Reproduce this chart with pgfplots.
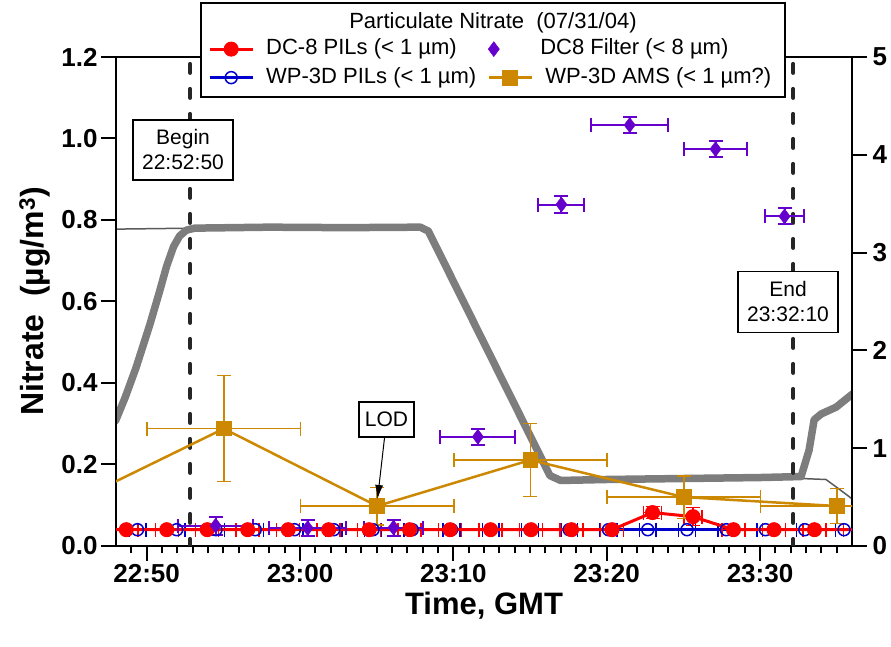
\documentclass[border=0pt]{standalone}
\usepackage{fontspec}
\setmainfont{Liberation Sans}
\usepackage{pgfplots}
\pgfplotsset{compat=1.18}
\usepackage{pgfplotstable}
\usetikzlibrary{arrows.meta}

\definecolor{dcred}{RGB}{255,0,0}
\definecolor{wpblue}{RGB}{0,0,204}
\definecolor{filt}{RGB}{102,0,204}
\definecolor{ams}{RGB}{204,136,0}
\definecolor{altgray}{RGB}{125,125,125}
\definecolor{altdark}{RGB}{90,90,90}

% time in minutes after 22:50 GMT
\pgfplotstableread{
x y
-2.03 1.28
-1.40 1.52
-0.70 1.82
0.20 2.26
0.80 2.58
1.30 2.86
1.75 3.06
2.15 3.17
2.60 3.23
3.14 3.25
8.0 3.26
13.0 3.255
17.84 3.26
18.37 3.22
26.30 0.72
27.00 0.67
30.0 0.68
35.0 0.69
40.0 0.70
42.68 0.71
43.2 0.98
43.53 1.29
43.99 1.35
44.97 1.42
45.6 1.50
46.08 1.56
}\altdc

\pgfplotstableread{
x y
-2.03 3.24
3.14 3.25
8.0 3.26
13.0 3.255
17.84 3.26
18.37 3.22
26.30 0.72
27.00 0.67
30.0 0.68
35.0 0.69
40.0 0.70
42.7 0.69
44.3 0.68
45.0 0.60
45.6 0.53
46.1 0.47
}\altwp

\pgfplotstableread{
x y ex ey
-3.97 0.04 0.75 0
-1.33 0.04 0.75 0
1.31 0.04 0.75 0
3.95 0.04 0.75 0
6.59 0.04 0.75 0
9.23 0.04 0.75 0
11.87 0.04 0.75 0
14.51 0.04 0.75 0
17.15 0.04 0.75 0
19.79 0.04 0.75 0
22.43 0.04 0.75 0
25.07 0.04 0.75 0
27.71 0.04 0.75 0
30.35 0.04 0.75 0
32.99 0.082 0.6 0.015
35.63 0.072 0.6 0.022
38.27 0.04 0.75 0
40.91 0.04 0.75 0
43.55 0.04 0.75 0
46.19 0.04 0.75 0
}\dcpils

\pgfplotstableread{
x y ex
-3.16 0.04 0.55
-0.60 0.04 0.55
1.96 0.04 0.55
4.52 0.04 0.55
7.08 0.04 0.55
9.64 0.04 0.55
12.20 0.04 0.55
14.76 0.04 0.55
17.32 0.04 0.55
19.88 0.04 0.55
22.44 0.04 0.55
25.00 0.04 0.55
27.56 0.04 0.55
30.12 0.04 0.55
32.68 0.04 0.55
35.24 0.04 0.55
37.80 0.04 0.55
40.36 0.04 0.55
42.92 0.04 0.55
45.48 0.04 0.55
}\wppils

\pgfplotstableread{
x y ex ey
4.5 0.050 2.45 0.022
10.5 0.044 2.5 0.020
16.1 0.045 1.9 0.020
21.6 0.268 2.45 0.020
27.05 0.838 1.5 0.022
31.5 1.033 2.5 0.020
37.1 0.974 2.05 0.020
41.6 0.809 1.3 0.020
}\filter

\pgfplotstableread{
x y ex ey
-9.0 0.030 5 0
5.03 0.288 5 0.130
15.03 0.098 5 0.046
25.03 0.211 5 0.090
35.03 0.120 5 0.052
45.03 0.098 5 0.043
}\amsdata

\pgfplotsset{
  geom/.style={at={(116pt,101pt)}, anchor=south west, width=736pt, height=489pt,
    scale only axis, xmin=-2, xmax=46},
  linelegend/.style={legend image code/.code={\draw[mark repeat=2,mark phase=2,##1] plot coordinates {(0pt,0pt) (21.5pt,0pt) (43pt,0pt)};}},
  marklegend/.style={legend image code/.code={\draw[##1] plot coordinates {(5pt,0pt)};}},
}

\newcommand{\tickfont}{\fontsize{26}{30}\selectfont\bfseries}

\begin{document}
\begin{tikzpicture}[x=1pt,y=1pt]
\useasboundingbox (0,0) rectangle (891,647);

% right axis (altitude traces)
\begin{axis}[geom, ymin=0, ymax=5,
  axis x line=none, axis y line*=right,
  ytick={0,1,2,3,4,5},
  tick align=outside, major tick length=15pt,
  axis line style={line width=2pt, -},
  tick style={line width=2pt, black},
  yticklabel style={font=\tickfont, xshift=2pt},
  /pgf/number format/assume math mode=true]
\addplot[altdark, line width=1.5pt, line join=round] table {\altwp};
\addplot[altgray, line width=7.5pt, line join=round, line cap=round] table {\altdc};
\end{axis}

% left axis (nitrate)
\begin{axis}[geom, ymin=0, ymax=1.2,
  xtick={0,10,20,30,40},
  xticklabels={22:50,23:00,23:10,23:20,23:30},
  minor xtick={-1,0,...,45},
  ytick={0,0.2,0.4,0.6,0.8,1.0,1.2},
  yticklabels={0.0,0.2,0.4,0.6,0.8,1.0,1.2},
  tick pos=left, tick align=outside,
  major tick length=15pt, minor tick length=7.5pt,
  axis line style={line width=2pt},
  tick style={line width=2pt, black},
  ticklabel style={font=\tickfont},
  xlabel={Time, GMT}, ylabel={Nitrate\ \ (µg/m\textsuperscript{3})},
  label style={font=\fontsize{32}{36}\selectfont\bfseries},
  xlabel style={at={(axis description cs:0.5,-0.121)}, anchor=center, font=\fontsize{31}{36}\selectfont\bfseries},
  ylabel style={at={(axis description cs:-0.110,0.5)}, anchor=center},
  error bars/error bar style={line width=1.5pt},
]
% Begin / End markers
\addplot[black!85, line width=4pt, dash pattern=on 9pt off 16pt, line cap=round] coordinates {(2.8333,1.183) (2.8333,0)};
\addplot[black!85, line width=4pt, dash pattern=on 9pt off 16pt, line cap=round] coordinates {(42.1667,1.183) (42.1667,0)};

% WP-3D PILs
\addplot[wpblue, line width=3pt, mark=o, mark size=6pt,
  mark options={line width=1.5pt, fill=white},
  error bars/.cd, x dir=both, x explicit,
  error mark options={wpblue, line width=1.5pt, mark size=7pt, rotate=90}]
  table[x=x, y=y, x error=ex] {\wppils};

% DC-8 PILs
\addplot[dcred, line width=3pt, mark=*, mark size=7pt,
  mark options={line width=1pt},
  error bars/.cd, x dir=both, x explicit, y dir=both, y explicit,
  error mark options={dcred, line width=1.5pt, mark size=7pt, rotate=90}]
  table[x=x, y=y, x error=ex, y error=ey] {\dcpils};

% DC8 Filter
\addplot[filt, only marks, mark=diamond*, mark size=7.5pt,
  error bars/.cd, x dir=both, x explicit, y dir=both, y explicit,
  error bar style={line width=2pt},
  error mark options={filt, line width=2pt, mark size=7pt, rotate=90}]
  table[x=x, y=y, x error=ex, y error=ey] {\filter};

% WP-3D AMS
\addplot[ams, line width=2.5pt, mark=square*, mark size=6.5pt,
  error bars/.cd, x dir=both, x explicit, y dir=both, y explicit,
  error mark options={ams, line width=1.5pt, mark size=7pt, rotate=90}]
  table[x=x, y=y, x error=ex, y error=ey] {\amsdata};
\end{axis}

% annotation boxes
\node[draw, line width=1.5pt, fill=white, align=center, inner sep=0pt,
  minimum width=100pt, minimum height=60pt, font=\fontsize{21}{25}\selectfont]
  at (183,497) {Begin\\22:52:50};
\node[draw, line width=1.5pt, fill=white, align=center, inner sep=0pt,
  minimum width=100pt, minimum height=61pt, font=\fontsize{21}{25}\selectfont]
  at (788,345) {End\\23:32:10};
\node[draw, line width=1.5pt, fill=white, inner sep=0pt,
  minimum width=55pt, minimum height=35pt, font=\fontsize{21}{25}\selectfont]
  at (386.5,227.5) {LOD};
\draw[-{Latex[length=14pt,width=8pt]}, line width=1pt] (384.5,209) -- (377.5,148);

% legend frame and title
\draw[line width=2pt, fill=white] (201,550) rectangle (785,644);
\node[font=\fontsize{22}{26}\selectfont] at (493,624.5) {Particulate Nitrate\ \ (07/31/04)};

% legend
\begin{axis}[geom, ymin=0, ymax=1, hide axis,
  legend columns=2,
  legend style={at={(axis description cs:0.125,1.040)}, anchor=north west,
    draw=none, fill=none, inner sep=0pt,
    font=\fontsize{22}{26}\selectfont,
    nodes={inner xsep=0pt, inner ysep=0pt, text height=17pt, text depth=6pt, anchor=west},
    row sep=5.5pt,
    /tikz/every odd column/.append style={column sep=12pt},
    /tikz/every even column/.append style={column sep=11pt}},
  legend cell align=left]
\addlegendimage{linelegend, dcred, line width=3pt, mark=*, mark size=7pt, mark options={line width=1pt}}
\addlegendentry{DC-8 PILs (< 1 µm)}
\addlegendimage{marklegend, filt, mark=diamond*, mark size=7.5pt}
\addlegendentry{\hspace*{-5pt}DC8 Filter (< 8 µm)}
\addlegendimage{linelegend, wpblue, line width=3pt, mark=o, mark size=6pt, mark options={line width=1.5pt, fill=white}}
\addlegendentry{WP-3D PILs (< 1 µm)}
\addlegendimage{linelegend, ams, line width=3pt, mark=square*, mark size=6.5pt}
\addlegendentry{WP-3D AMS (< 1 µm?)}
\end{axis}
\end{tikzpicture}
\end{document}
